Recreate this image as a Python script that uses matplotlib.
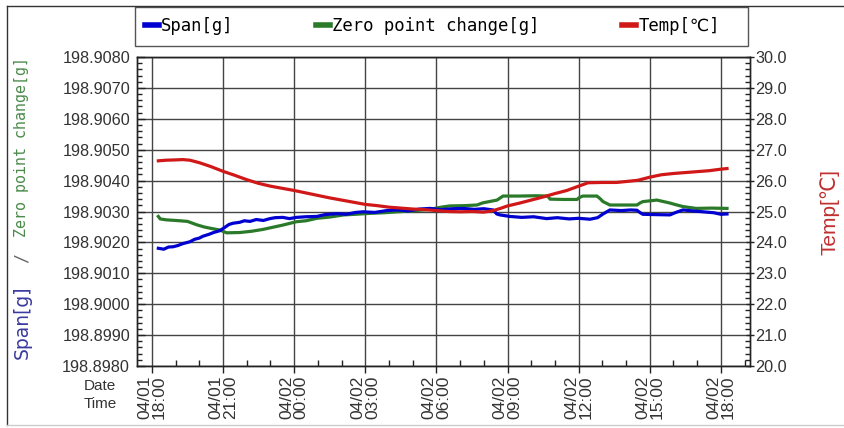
import matplotlib
matplotlib.use("Agg")
import matplotlib.pyplot as plt
from matplotlib.ticker import MultipleLocator, AutoMinorLocator, FuncFormatter
from matplotlib.lines import Line2D
from matplotlib.patches import Rectangle

# hours since 04/01 18:00
t_span = [0.27, 0.5, 0.7, 0.9, 1.1, 1.3, 1.6, 1.8, 2.0, 2.15, 2.4, 2.6, 2.87, 3.1, 3.25,
          3.42, 3.7, 3.9, 4.14, 4.4, 4.7, 4.98, 5.2, 5.52, 5.8, 6.1, 6.5, 6.96, 7.3, 7.8,
          8.2, 8.6, 8.9, 9.4, 9.9, 10.34, 10.8, 11.3, 11.73, 12.2, 12.7, 13.12, 13.6, 14.0, 14.39,
          14.55, 14.68, 15.1, 15.6, 16.1, 16.65, 17.1, 17.6, 18.0, 18.48, 18.8, 19.03, 19.32, 19.8, 20.2,
          20.46, 20.6, 20.71, 21.2, 21.85, 22.1, 22.4, 22.8, 23.25, 23.7, 24.0, 24.26]
span = [198.90181, 198.90178, 198.90185, 198.90186, 198.90190, 198.90196, 198.90202, 198.90210,
        198.90214, 198.90220, 198.90226, 198.90232, 198.90238, 198.90250, 198.90258, 198.90262,
        198.90265, 198.90270, 198.90268, 198.90274, 198.90271, 198.90277, 198.90280, 198.90281,
        198.90277, 198.90281, 198.90283, 198.90284, 198.90290, 198.90293, 198.90291, 198.90297,
        198.90299, 198.90297, 198.90303, 198.90305, 198.90302, 198.90308, 198.90310, 198.90306,
        198.90309, 198.90310, 198.90307, 198.90309, 198.90305, 198.90292, 198.90289, 198.90284,
        198.90281, 198.90283, 198.90277, 198.90280, 198.90276, 198.90278, 198.90275, 198.90280,
        198.90292, 198.90305, 198.90303, 198.90305, 198.90304, 198.90296, 198.90291, 198.90290,
        198.90289, 198.90297, 198.90305, 198.90302, 198.90299, 198.90296, 198.90291, 198.90292]

t_zero = [0.27, 0.35, 0.6, 1.0, 1.18, 1.5, 1.89, 2.2, 2.45, 2.87, 3.15, 3.71, 4.2, 4.68, 5.1,
          5.52, 6.1, 6.5, 6.96, 7.5, 8.1, 8.6, 9.2, 9.8, 10.34, 11.0, 11.73, 12.2, 12.57, 13.2,
          13.71, 13.96, 14.56, 14.81, 15.5, 16.2, 16.69, 16.8, 17.34, 17.93, 18.05, 18.18, 18.77, 18.9, 19.03,
          19.32, 20.0, 20.46, 20.6, 20.71, 21.3, 21.82, 22.1, 22.4, 22.96, 23.6, 24.26]
zero = [198.90284, 198.90276, 198.90273, 198.90271, 198.90270, 198.90268, 198.90257, 198.90250,
        198.90246, 198.90240, 198.90231, 198.90232, 198.90236, 198.90242, 198.90249, 198.90256,
        198.90267, 198.90270, 198.90278, 198.90282, 198.90289, 198.90291, 198.90294, 198.90296,
        198.90299, 198.90302, 198.90307, 198.90314, 198.90318, 198.90319, 198.90321, 198.90328,
        198.90337, 198.90350, 198.90350, 198.90351, 198.90350, 198.90340, 198.90339, 198.90339,
        198.90346, 198.90350, 198.90350, 198.90342, 198.90332, 198.90321, 198.90321, 198.90321,
        198.90328, 198.90332, 198.90337, 198.90328, 198.90322, 198.90316, 198.90310, 198.90311,
        198.90310]

t_temp = [0.27, 0.6, 1.0, 1.3, 1.6, 2.0, 2.5, 3.0, 3.5, 4.0, 4.5, 5.0, 5.5, 6.0, 6.5, 7.0,
          7.5, 8.0, 8.5, 9.0, 9.5, 10.0, 10.5, 11.0, 11.5, 12.0, 12.5, 13.0, 13.5, 14.0, 14.4,
          14.7, 15.0, 15.5, 16.0, 16.5, 17.0, 17.5, 18.0, 18.4, 19.0, 19.6, 20.0, 20.5, 21.0,
          21.5, 22.0, 22.5, 23.0, 23.5, 24.0, 24.26]
temp = [26.64, 26.66, 26.67, 26.68, 26.66, 26.58, 26.45, 26.30, 26.17, 26.03, 25.91, 25.82,
        25.75, 25.68, 25.60, 25.52, 25.44, 25.37, 25.30, 25.23, 25.19, 25.14, 25.11, 25.08,
        25.06, 25.03, 25.00, 24.99, 25.00, 24.98, 25.03, 25.10, 25.18, 25.27, 25.37, 25.47,
        25.58, 25.68, 25.82, 25.93, 25.94, 25.94, 25.97, 26.01, 26.11, 26.19, 26.23, 26.26,
        26.29, 26.32, 26.37, 26.39]

tick_labels = ['04/01\n18:00', '04/01\n21:00', '04/02\n00:00', '04/02\n03:00', '04/02\n06:00',
               '04/02\n09:00', '04/02\n12:00', '04/02\n15:00', '04/02\n18:00']

c_span = '#0000d0'
c_zero = '#2a7a2a'
c_temp = '#d01818'
txt = '#333333'
grid_c = '#444444'

fig = plt.figure(figsize=(8.44, 4.28), dpi=100)
ax = fig.add_axes([137 / 844, 1 - 366 / 428, 613 / 844, 309 / 428])
ax2 = ax.twinx()

ax.plot(t_zero, zero, color=c_zero, lw=2.3, solid_joinstyle='miter')
ax.plot(t_span, span, color=c_span, lw=2.3, solid_joinstyle='miter')
ax2.plot(t_temp, temp, color=c_temp, lw=2.3)

ax.set_xlim(-0.63, 25.23)
ax.set_ylim(198.8980, 198.9080)
ax2.set_ylim(20.0, 30.0)

ax.xaxis.set_major_locator(MultipleLocator(3))
ax.xaxis.set_minor_locator(MultipleLocator(1))
ax.xaxis.set_major_formatter(FuncFormatter(
    lambda v, p: tick_labels[int(round(v / 3))] if 0 <= round(v / 3) < len(tick_labels) else ''))
ax.yaxis.set_major_locator(MultipleLocator(0.001))
ax.yaxis.set_minor_locator(AutoMinorLocator(5))
ax.yaxis.set_major_formatter(FuncFormatter(lambda v, p: f'{v:.4f}'))
ax2.yaxis.set_major_locator(MultipleLocator(1.0))
ax2.yaxis.set_minor_locator(AutoMinorLocator(5))
ax2.yaxis.set_major_formatter(FuncFormatter(lambda v, p: f'{v:.1f}'))

ax.grid(True, which='major', color=grid_c, lw=1.0)
ax.set_axisbelow(True)

ax.tick_params(axis='x', which='major', direction='out', length=5, width=1, color='#222222',
               labelsize=12.5, labelcolor=txt, labelrotation=90, pad=2)
ax.tick_params(axis='x', which='minor', direction='in', length=4, width=1, color='#222222')
ax.tick_params(axis='y', which='major', direction='in', length=6, width=1, color='#222222',
               labelsize=11.7, labelcolor=txt, pad=5)
ax.tick_params(axis='y', which='minor', direction='in', length=3.5, width=1, color='#222222')
ax2.tick_params(axis='y', which='major', direction='inout', length=6, width=1, color='#222222',
                labelsize=11.7, labelcolor=txt, pad=1)
ax2.tick_params(axis='y', which='minor', direction='in', length=3.5, width=1, color='#222222')

for lab in ax.get_xticklabels() + ax.get_yticklabels() + ax2.get_yticklabels():
    lab.set_fontfamily('Liberation Sans')
for lab in ax.get_xticklabels():
    lab.set_va('top')
    lab.set_ha('center')
    lab.set_linespacing(0.95)

for a in (ax, ax2):
    for s in a.spines.values():
        s.set_color('#222222')
        s.set_linewidth(1)

# left axis label in two colours
fig.text(22 / 844, 1 - 322 / 428, 'Span[g]', rotation=90, color='#3a3aa0', fontsize=13.5,
         family='DejaVu Sans', ha='center', va='center')
fig.text(22 / 844, 1 - 258 / 428, '/', rotation=90, color='#666666', fontsize=12,
         family='DejaVu Sans Mono', ha='center', va='center')
fig.text(22 / 844, 1 - 147 / 428, 'Zero point change[g]', rotation=90, color='#4a8a4a',
         fontsize=10.8, family='DejaVu Sans Mono', ha='center', va='center')
fig.text(830 / 844, 1 - 212 / 428, 'Temp[℃]', rotation=90, color='#c03030', fontsize=15,
         family=['Liberation Sans', 'DejaVu Sans'], ha='center', va='center')

fig.text(100 / 844, 1 - 386 / 428, 'Date', color=txt, fontsize=11, family='Liberation Sans',
         ha='center', va='center')
fig.text(100 / 844, 1 - 404 / 428, 'Time', color=txt, fontsize=11, family='Liberation Sans',
         ha='center', va='center')

# legend
handles = [Line2D([], [], color=c_span, lw=4),
           Line2D([], [], color=c_zero, lw=4),
           Line2D([], [], color=c_temp, lw=4)]
fig.legend(handles, ['Span[g]', 'Zero point change[g]', 'Temp[℃]'], ncol=3, mode='expand',
           loc='center', bbox_to_anchor=(145 / 844, 1 - 45 / 428, 575 / 844, 38 / 428),
           frameon=False, handlelength=0.8, handletextpad=0.15, borderaxespad=0, borderpad=0,
           prop={'family': ['DejaVu Sans Mono', 'DejaVu Sans'], 'size': 12.4})
fig.patches.append(Rectangle((135 / 844, 1 - 46 / 428), 613 / 844, 39 / 428,
                             transform=fig.transFigure, fill=False, edgecolor='#555555', lw=1))

# outer frame
fig.add_artist(Line2D([7 / 844, 1], [1 - 6 / 428, 1 - 6 / 428], transform=fig.transFigure,
                      color='#333333', lw=1))
fig.add_artist(Line2D([7 / 844, 7 / 844], [1 - 6 / 428, 1 - 425 / 428], transform=fig.transFigure,
                      color='#333333', lw=1))
fig.add_artist(Line2D([7 / 844, 1], [1 - 425 / 428, 1 - 425 / 428], transform=fig.transFigure,
                      color='#cccccc', lw=1))

fig.savefig('out.png', dpi=100)
